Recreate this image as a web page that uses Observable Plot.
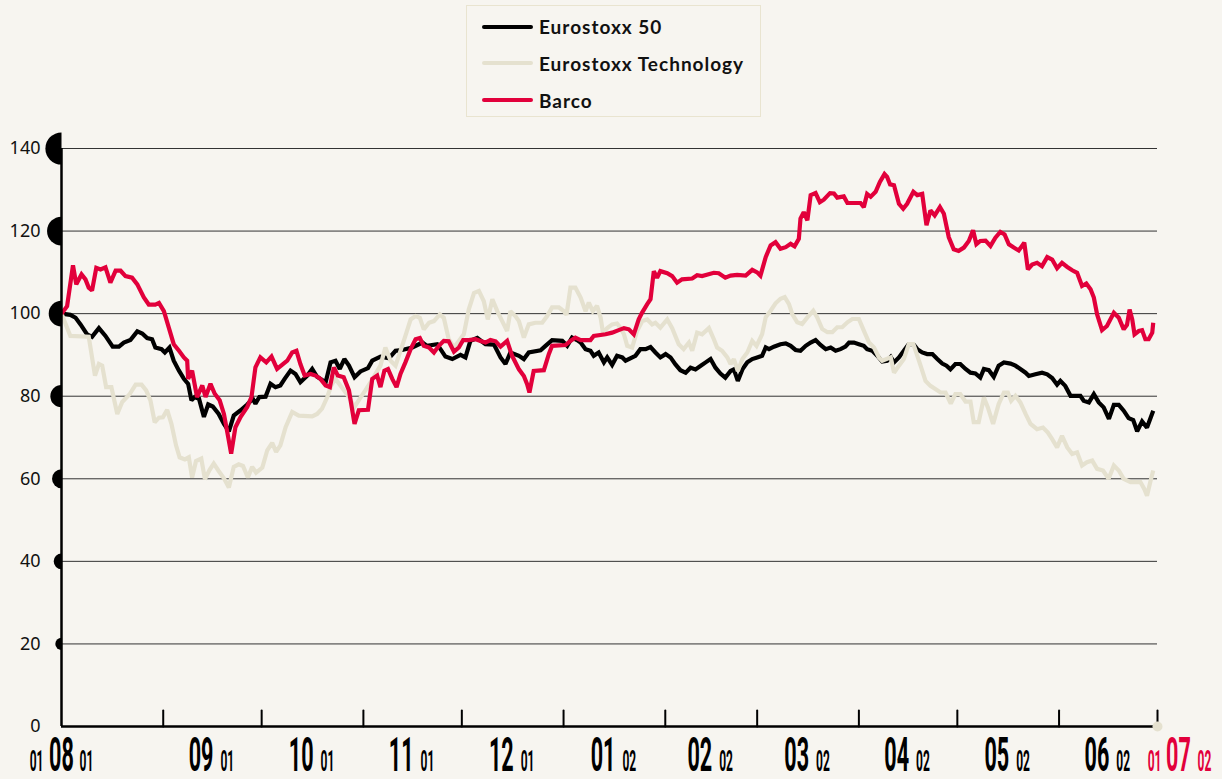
<!DOCTYPE html>
<html><head><meta charset="utf-8">
<script src="https://cdn.jsdelivr.net/npm/d3@7"></script>
<script src="https://cdn.jsdelivr.net/npm/@observablehq/plot@0.6"></script>
<style>
html,body{margin:0;padding:0;background:#f7f5f0;}
#chart{position:relative;width:1222px;height:779px;overflow:hidden;}
#legend{position:absolute;left:466px;top:5px;width:295px;height:112px;border:1.5px solid #e9e4d0;box-sizing:border-box;font-family:Lato,"DejaVu Sans",sans-serif;font-weight:700;font-size:19px;letter-spacing:1px;color:#111;}
.item{position:absolute;left:15px;height:20px;display:flex;align-items:center;white-space:nowrap;}
.swatch{width:51px;height:4px;border-radius:2px;margin-right:6px;}
</style></head>
<body>
<div id="chart"><div id="legend"></div></div>
<script>
// ---- data (x = days since 1 Aug 2001, y = index, start = 100) ----
const seriesNames = ["Eurostoxx 50", "Eurostoxx Technology", "Barco"];
const seriesColors = ["#000000", "#e5e1cf", "#e2003b"];

const stoxx = [
[0,100],[2.7,99.7],[4.3,99],[5.8,97.4],[7.8,95],[9.3,94.4],[11.4,96.5],[13.4,94.6],[15.6,92],[17.5,92],[19,93],[21,93.6],[23.1,95.7],[24.6,95.2],[26.1,94.1],[27.6,93.8],[28.6,91.8],[30.5,91.4],[31.5,90.6],[32.9,91.8],[34.2,88.6],[35.8,86.2],[37.3,84.2],[38.6,83],[39.6,79],[40.6,79.8],[41.9,79.4],[43.4,75],[44.7,78],[46.1,77.5],[47.9,75.7],[49.5,73.3],[51,71.5],[52.5,75.3],[54.6,76.6],[56.6,78],[58.3,79.4],[59.1,78.2],[60.3,79.8],[62.2,79.9],[63.7,83],[65.2,82.2],
[66.7,82.6],[68,84.2],[69.8,86.2],[71.3,85.4],[72.8,83.4],[74.9,85],[76.4,86.6],[77.9,84.7],[80.5,83.4],[82,88.2],[83.5,88.6],[84.8,86.6],[86.2,89],[87.6,87.4],[89.3,84.6],[91.1,86],[93.4,86.8],[94.7,88.6],[97.2,89.6],[99.8,89.2],[101.8,91],[103.8,91.2],[106.9,91.8],[110,93],[111.4,92.2],[114.5,92.6],[117,89.6],[119.1,89],[121.6,90],[123.1,89.4],[124.6,93.4],[126.7,94.1],[129.2,92.6],[131.8,92.5],[133.8,89.4],[135.3,87.8],
[136.8,90.6],[139.4,89.8],[140.9,89],[142.4,90.6],[146,91.1],[147.5,92.2],[149.5,93.6],[152.6,93.4],[154.1,92.2],[155.6,94.2],[157.1,93.6],[158.2,93],[159.7,91.4],[161.2,91],[162.2,89.8],[163.7,90.6],[165.3,88.2],[166.3,89.4],[167.8,87.6],[169.3,89.8],[170.9,89.4],[171.9,88.6],[174.9,89.8],[176.4,91.4],[178,91.4],[179.5,91.9],[181,90.6],[182.5,89.4],[184.1,90.2],[185.6,89.4],[187.1,87.7],[188.6,86.3],[190.2,85.7],[191.7,86.9],[193.2,86.5],[194.7,87.3],[196.3,88.2],[197.8,89],[199.3,86.9],[200.8,85.5],[202.3,84.5],
[203.9,86.1],[204.9,86.5],[206.1,83.7],[207.5,86.5],[209,88.2],[210.5,89],[212,89.4],[213.5,89.8],[214.6,91.8],[215.6,91.4],[217.1,92],[219.1,92.6],[220.7,92.8],[222.2,92.2],[223.7,91.2],[225.2,91],[226.8,92.2],[228.3,93],[229.8,93.6],[231.3,92.4],[232.9,91.4],[234.4,91.8],[235.9,91],[237.4,91.4],[238.9,92],[240,93],[241.5,93],[243,92.6],[244.5,92.2],[245.5,91.4],[247.1,91],[248.6,89.8],[250.1,88.4],[251.6,88.6],[252.7,89.5],[253.7,88.2],[255.2,89.4],[256.7,91],[258.2,92.6],[259.6,92.6],[260.8,91.4],[262.3,90.6],[263.8,90.2],[265.4,90.2],[266.9,89],[268.4,87.9],[269.7,87.4],[270.9,86.5],
[272.4,87.8],[273.9,87.8],[275.5,86.6],[277,85.7],[278.5,85.5],[280,84.5],[281.1,86.6],[282.6,86.3],[284.1,84.7],[285.6,87.4],[287.2,88.2],[289.2,87.9],[290.7,87.4],[292.2,86.6],[293.8,85.7],[294.8,84.9],[296.8,85.3],[298.8,85.7],[300.4,85.3],[301.9,84.4],[303.4,82.8],[304.4,83.7],[305.9,82.5],[307.5,80.1],[310.5,80.1],[311.5,78.9],[313.1,78.5],[314.6,80.5],[316.1,78.5],[317.6,77.3],[319.2,74.5],[320.7,77.9],[322.2,77.9],[323.7,76.5],[325.2,74.7],[326.6,74.2],[327.8,71.5],[329.3,73.9],[330.8,72.4],[332.7,76.5]
];

const tech = [
[0,100],[2.7,94.6],[8.3,94.4],[10.2,85],[11.4,87.8],[12.4,87.4],[13.6,82.2],[15.2,82.2],[17,75.7],[18.5,78.6],[20.7,80.4],[22.6,82.8],[24.4,82.8],[25.8,81.4],[27.1,79],[28.4,73.7],[29.7,74.8],[30.9,74.9],[32.2,76.7],[33.5,73.3],[34.9,68.1],[36,65.2],[37.6,64.7],[38.8,65.2],[39.8,60.3],[41,64.3],[42.6,64.9],[43.7,59.9],[45.1,62.1],[46.4,63.7],[47.9,61.9],[49.5,60.1],[51,57.9],[52.5,62.9],[54,63.5],[55.3,63.1],[56.8,60.3],[58.1,62.9],[59.3,61.5],[61.2,62.7],[62.7,66.9],[64.2,68.7],[65.4,66.5],
[66.7,68.1],[68.3,72.5],[70.3,76.2],[72.3,75.3],[76.4,75.1],[77.9,75.7],[79.4,77],[81,79.8],[82.2,82.6],[83.5,84.2],[85,82.6],[87.6,79.8],[89.3,77.4],[90.9,79.4],[92.6,81.4],[94.2,83.4],[95.7,85.4],[97.2,87.4],[98.7,91.8],[100.3,88.6],[101.8,87.4],[103.3,91],[104.8,94.6],[106.4,98.6],[107.9,99.4],[109.2,99],[110.4,96.2],[112,97.8],[113.5,98.2],[115.3,99.8],[116.5,99],[118,93.8],[119.6,91.8],[121.1,93.4],[122.6,95],[124.1,101],[125.7,105],[127.2,105.5],[128.7,103],[129.9,98.6],[131.3,103.5],[132.8,100.6],[134.3,98.2],[135.8,95.8],
[136.8,100.6],[138.3,99.4],[139.4,98.2],[140.9,94.2],[142.4,97.4],[144.4,97.8],[146.5,97.8],[148,99.4],[149.5,101.5],[151.6,101.5],[153.1,100.6],[153.9,99.7],[155.1,106.3],[156.6,106.3],[158.2,103.9],[159.7,100.6],[160.7,102.7],[161.9,100.6],[163.2,101.9],[164.3,99],[165,95.4],[166.3,96.5],[167.8,97.4],[169.3,97.6],[170.3,96.6],[171.4,95],[172.4,92.2],[173.9,91.8],[175.4,95.8],[177,98.2],[178.5,98.6],[180,97.4],[181,97.8],[182.5,96.6],[184.6,98.6],[186.1,96.5],[188.1,92.6],[189.6,91.4],[191.2,93],[192.2,91],[193.7,95.4],[195.2,95],[197.3,96.5],[198.8,93.8],[199.8,91.8],[201.3,91],[202.9,89.4],
[203.9,87.8],[204.9,89],[206.1,86.1],[207.5,89],[209,90.6],[210.5,93.4],[211.8,92.2],[213.5,95],[214.6,99.1],[216.1,100.7],[217.6,102.5],[219.1,103.6],[220.4,104],[221.7,102.3],[222.7,99.9],[224.2,97.9],[225.7,97.5],[227.3,99.1],[229.1,100.7],[230.3,99.1],[231.8,96.3],[233.4,95.5],[234.9,95.5],[236.4,96.7],[237.9,96.7],[239.5,97.9],[241,98.7],[243,98.7],[244.5,95.9],[246.1,93],[247.6,91.8],[249.1,89.4],[250.1,88.6],[252.7,89.4],[253.7,85.7],[255.2,87.4],[256.7,89],[258.2,92.6],[259.6,92.6],[260.3,91],[261.8,87.4],[263.3,83.7],[264.8,82.5],[266.4,81.7],[267.9,80.9],[269.4,80.9],[271,78.2],
[272.4,80.5],[273.9,80.5],[275.5,78.7],[277,78.7],[278,73.7],[279.5,73.7],[281.1,79.7],[282.3,77.3],[283.9,73.3],[285.6,78.1],[287.2,80.9],[288.4,80.9],[289.4,78.9],[290.7,80.1],[292.2,78.5],[293.8,75.7],[295.3,73.3],[297.3,72],[299.1,72.4],[300.6,71.2],[301.9,69.6],[303.4,67.6],[304.9,70.4],[306.5,67.6],[308,66],[309.5,66.4],[311,63.2],[312.5,64],[314.1,64.4],[315.6,62.4],[317.4,62],[319.1,60],[320.7,63.2],[322.2,62],[323.7,60],[325.8,59.2],[328.8,59.2],[330,57.5],[330.8,55.9],[331.8,59.2],[332.7,62]
];

const barco = [
[0,100],[1.7,101.8],[3.5,111.7],[4.5,107.1],[6.1,109.5],[7.3,108.3],[8.3,106.3],[9.3,105.6],[10.6,111.1],[11.9,110.7],[13.4,111.2],[14.9,107.5],[16.5,110.4],[18,110.4],[19.5,109.1],[21.5,108.7],[23.1,107.1],[25.1,103.9],[26.6,102.2],[28.6,102.2],[29.7,102.6],[31.2,100.6],[32.7,96.6],[34.2,92.6],[35.8,91],[37.3,89.4],[38.3,88.6],[38.6,84.2],[39.8,86.2],[41.3,79.8],[42.9,82.6],[43.9,79.8],[45.4,83],[46.7,80.6],[48.2,79],[49.5,75.7],[50.8,70.1],[51.7,66.1],[53,72.5],[54.6,75],[56.6,77.4],[57.9,79.8],[59.1,87],[60.6,89.4],[62.4,88.2],[64,89.6],[65.7,86.6],
[68.8,88.6],[70.3,90.6],[71.6,91],[72.8,87.8],[74.1,85],[75.9,85.4],[77.4,85],[78.9,84.2],[80.5,82.6],[81.8,82.2],[83,87],[84.2,85],[86,84.6],[87.6,81.4],[89.3,73.3],[90.6,76.6],[93.4,76.7],[94.7,84.2],[96.2,85],[97.2,82.2],[98.4,86.2],[99.5,86.6],[100.8,84.2],[102.1,82.2],[103.3,85.4],[104.8,88.2],[106.4,91.4],[107.9,93.8],[109.2,94.1],[110.4,92.2],[112,91.8],[113.5,90.6],[115,92.2],[116.5,93.4],[118,93.3],[119.6,90.8],[121.1,91.8],[122.4,93.6],[124.1,93.6],[126.2,93.8],[127.7,93.4],[129.2,93],[130.7,93.6],[132.3,93.3],[133.8,92],
[135.8,93.4],[137.3,89.8],[139.4,86.5],[140.9,84.9],[141.9,82.9],[142.6,80.9],[143.9,86.1],[147,86.3],[148.5,90.2],[149.5,92.2],[153.6,92.4],[155.1,93.4],[156.6,94.2],[158.2,93.6],[161.2,93.6],[162.2,94.6],[165.8,95],[167.8,95.4],[169.8,96],[171.4,96.5],[172.9,96.2],[174.4,95],[175.9,98.6],[176.9,100.2],[178.5,102.3],[179.5,103.5],[180.5,110.3],[181.5,108.7],[182.5,110.3],[184.6,109.8],[186.1,109.1],[187.6,107.5],[189.1,108.3],[192.2,108.5],[193.7,109.3],[195.2,109.1],[198.8,109.9],[200.3,109.8],[202.3,108.7],
[203.9,109.2],[205.9,109.4],[208.5,109.2],[210.5,110.6],[212,110],[213,109.2],[214.6,113.7],[216.1,116.5],[217.6,117.3],[219.1,115.7],[220.7,116.1],[222.2,116.9],[223.4,116.3],[224.7,118.1],[225.2,123],[226.2,124.6],[227.3,122.6],[228.3,128.7],[229.8,129.2],[231.1,127],[232.3,127.6],[234.2,129.2],[235.4,129.1],[236.4,128.1],[238.4,128.4],[239.5,126.8],[243.5,126.8],[244.5,125.8],[245.5,129],[246.6,128.3],[248.1,129.5],[249.4,131.9],[250.8,133.8],[251.6,133.1],[252.5,131.3],[253.7,131.1],[255.2,126.6],[256.5,125.4],[257.7,126.6],[259.6,129.5],[260.8,128.7],[262.3,129],[263.6,121.4],[264.8,125],[266.1,123.8],[267.7,125.8],[268.9,124.2],[270.4,118.5],
[271.9,115.6],[273.4,115.2],[275,116],[276.5,117.6],[277.8,120.2],[278.8,116.8],[280,117.6],[281.6,117.7],[283.1,116.4],[284.6,118.4],[286.1,119.8],[287.4,119.2],[288.7,116.8],[290.2,116],[291.7,115.3],[292.7,116.4],[293.4,117.2],[294.5,110.7],[295.8,111.9],[297.3,112.3],[298.8,111.5],[300.4,113.7],[301.9,113.1],[303.4,111],[304.9,112.3],[306.5,111.3],[308,110.5],[309.5,109.9],[311,106.7],[312.3,107.3],[313.6,105.9],[314.6,103.9],[315.6,99.8],[317.1,96],[318.6,97],[320.7,100.2],[322.2,99],[323.7,96.2],[324.7,97.3],[325.5,101],[326.3,98.6],[327,95],[328.3,95.8],[329.3,96],[330.3,93.8],[331.3,93.8],[332.4,95.4],[332.7,97.8]
];

const yTicks = [0, 20, 40, 60, 80, 100, 120, 140];
const monthStartDays = [31, 61, 92, 122, 153, 184, 212, 243, 273, 304, 334];
const monthLabels = ["09", "10", "11", "12", "01", "02", "03", "04", "05", "06"];
const monthYears = ["01", "01", "01", "01", "02", "02", "02", "02", "02", "02"];
const startLabel = {day: "01", month: "08", year: "01", d: 0};
const endLabel = {day: "01", month: "07", year: "02", d: 334};

// ---- legend ----
const legend = document.getElementById("legend");
seriesNames.forEach((n, i) => {
  const it = document.createElement("div");
  it.className = "item";
  it.style.top = (10.5 + i * 36.8) + "px";
  it.innerHTML = `<span class="swatch" style="background:${seriesColors[i]}"></span><span>${n}</span>`;
  legend.appendChild(it);
});

// ---- chart ----
const mids = monthLabels.map((m, i) => ({m, yr: monthYears[i], d: (monthStartDays[i] + monthStartDays[i + 1]) / 2}));
const halfDisc = {
  draw(ctx, size) {
    const r = Math.sqrt(size / Math.PI);
    ctx.moveTo(0, -r);
    ctx.arc(0, 0, r, -Math.PI / 2, Math.PI / 2, true);
    ctx.closePath();
  }
};
const tickShape = {draw(ctx, l) { ctx.moveTo(0, 0); ctx.lineTo(0, -l); }};
const lineOpts = (c) => ({x: d => d[0], y: d => d[1], stroke: c, strokeWidth: 4.2, strokeLinejoin: "miter", strokeMiterlimit: 2, strokeLinecap: "butt"});
const condFont = {fontFamily: "Roboto, 'DejaVu Sans', sans-serif", fontWeight: 700, lineAnchor: "bottom"};

const chart = Plot.plot({
  width: 1222, height: 779,
  marginLeft: 61, marginRight: 65, marginTop: 148, marginBottom: 53,
  style: {background: "transparent", overflow: "visible"},
  x: {domain: [0, 334], axis: null},
  y: {domain: [0, 140], axis: null},
  r: {type: "linear", domain: [0, 140], range: [4.5, 16.1]},
  marks: [
    Plot.ruleY(yTicks.filter(v => v > 0), {stroke: "#333", strokeWidth: 1}),
    Plot.line(stoxx, lineOpts(seriesColors[0])),
    Plot.line(tech, lineOpts(seriesColors[1])),
    Plot.line(barco, lineOpts(seriesColors[2])),
    Plot.ruleX([0], {y1: 0, y2: 140, stroke: "#000", strokeWidth: 2.5}),
    Plot.ruleY([0], {stroke: "#000", strokeWidth: 2.5}),
    Plot.vector(monthStartDays, {x: d => d, y: () => 0, length: 16, anchor: "start", shape: tickShape, stroke: "#000", strokeWidth: 2}),
    Plot.dot([endLabel], {x: "d", y: () => 0, r: 5, fill: seriesColors[1], stroke: null}),
    Plot.dot(yTicks.filter(v => v > 0), {frameAnchor: "left", y: d => d, r: d => d, symbol: halfDisc, fill: "#000", stroke: null}),
    Plot.text(yTicks, {frameAnchor: "left", y: d => d, text: d => String(d), textAnchor: "end", dx: -21, fontSize: 18, fontFamily: "'Noto Sans', 'Open Sans', sans-serif", fill: "#111"}),
    // month labels
    Plot.text(mids, {x: "d", y: () => 0, text: "m", textAnchor: "end", dx: 1, dy: 44, fontSize: 48, fill: "#000", ...condFont}),
    Plot.text(mids, {x: "d", y: () => 0, text: "yr", textAnchor: "start", dx: 8, dy: 44, fontSize: 30, fill: "#000", ...condFont}),
    Plot.text([startLabel], {x: "d", y: () => 0, text: "month", textAnchor: "middle", dx: 0, dy: 44, fontSize: 48, fill: "#000", ...condFont}),
    Plot.text([startLabel], {x: "d", y: () => 0, text: "day", textAnchor: "end", dx: -18, dy: 44, fontSize: 30, fill: "#000", ...condFont}),
    Plot.text([startLabel], {x: "d", y: () => 0, text: "year", textAnchor: "start", dx: 18, dy: 44, fontSize: 30, fill: "#000", ...condFont}),
    Plot.text([endLabel], {x: "d", y: () => 0, text: "month", textAnchor: "middle", dx: 21, dy: 44, fontSize: 48, fill: seriesColors[2], ...condFont}),
    Plot.text([endLabel], {x: "d", y: () => 0, text: "day", textAnchor: "end", dx: 4, dy: 44, fontSize: 30, fill: seriesColors[2], ...condFont}),
    Plot.text([endLabel], {x: "d", y: () => 0, text: "year", textAnchor: "start", dx: 40, dy: 44, fontSize: 30, fill: seriesColors[2], ...condFont})
  ]
});

function condense(size, s) {
  chart.querySelectorAll("g").forEach(g => {
    if (g.getAttribute("font-size") !== String(size)) return;
    g.querySelectorAll("text").forEach(t => {
      const tr = t.getAttribute("transform");
      if (tr) {
        t.setAttribute("transform", tr + ` scale(${s},1)`);
      } else {
        const x = +t.getAttribute("x") || 0, y = +t.getAttribute("y") || 0;
        t.removeAttribute("x"); t.removeAttribute("y");
        t.setAttribute("transform", `translate(${x},${y}) scale(${s},1)`);
      }
    });
  });
}
condense(48, 0.45);
condense(30, 0.4);

chart.style.position = "absolute";
chart.style.left = "0px";
chart.style.top = "0px";
document.getElementById("chart").insertBefore(chart, legend);
</script>
</body></html>
